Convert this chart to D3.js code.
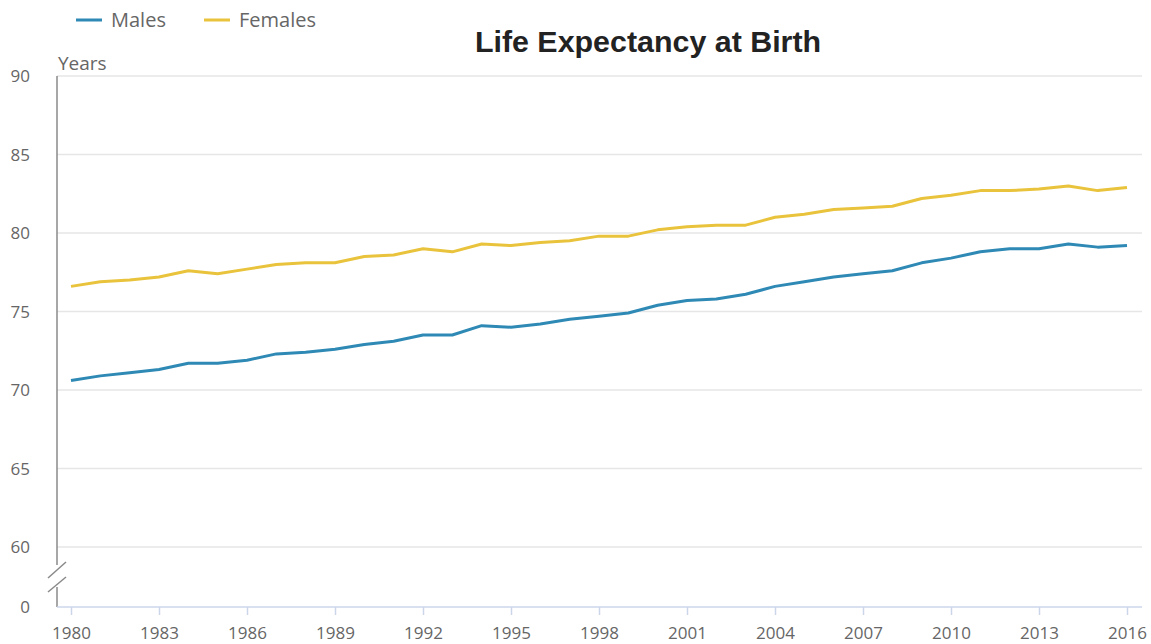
<!DOCTYPE html>
<html>
<head>
<meta charset="utf-8">
<title>Life Expectancy at Birth</title>
<script src="https://d3js.org/d3.v7.min.js"></script>
<style>
  body { margin: 0; background: #fff; }
  svg { display: block; }
  text { font-family: "Open Sans", sans-serif; fill: #666; }
</style>
</head>
<body>
<svg width="1151" height="644"></svg>
<script>
// data
const years = d3.range(1980, 2017);
const males = [70.6, 70.9, 71.1, 71.3, 71.7, 71.7, 71.9, 72.3, 72.4, 72.6,
  72.9, 73.1, 73.5, 73.5, 74.1, 74.0, 74.2, 74.5, 74.7, 74.9,
  75.4, 75.7, 75.8, 76.1, 76.6, 76.9, 77.2, 77.4, 77.6, 78.1,
  78.4, 78.8, 79.0, 79.0, 79.3, 79.1, 79.2];
const females = [76.6, 76.9, 77.0, 77.2, 77.6, 77.4, 77.7, 78.0, 78.1, 78.1,
  78.5, 78.6, 79.0, 78.8, 79.3, 79.2, 79.4, 79.5, 79.8, 79.8,
  80.2, 80.4, 80.5, 80.5, 81.0, 81.2, 81.5, 81.6, 81.7, 82.2,
  82.4, 82.7, 82.7, 82.8, 83.0, 82.7, 82.9];
const xTicks = d3.range(1980, 2017, 3);
const yTicks = [0, 60, 65, 70, 75, 80, 85, 90];
const series = [
  { name: "Males", values: males, color: "#2f89b5" },
  { name: "Females", values: females, color: "#e9c33c" }
];

const svg = d3.select("svg");
const left = 57, right = 1142;

const x = d3.scaleLinear().domain([1980, 2016]).range([71, 1127]);
// broken axis: 0 sits just below 60
const y = d3.scaleLinear().domain([0, 60, 90]).range([607, 547, 76]);

// gridlines
svg.append("g").selectAll("line")
  .data(yTicks.filter(d => d > 0))
  .enter().append("line")
  .attr("x1", left).attr("x2", right)
  .attr("y1", d => y(d)).attr("y2", d => y(d))
  .attr("stroke", "#e6e6e6").attr("stroke-width", 1.5);

// y tick labels
svg.append("g").selectAll("text")
  .data(yTicks)
  .enter().append("text")
  .attr("x", 30).attr("y", d => y(d) + 6)
  .attr("text-anchor", "end")
  .attr("font-size", 17)
  .text(d => d);

// y axis line with break marks
const axisG = svg.append("g").attr("stroke", "#8a8a8a").attr("stroke-width", 1.5);
axisG.append("line").attr("x1", left).attr("x2", left).attr("y1", y(90)).attr("y2", 565);
axisG.append("line").attr("x1", left).attr("x2", left).attr("y1", 587).attr("y2", y(0));
axisG.append("line").attr("x1", 48).attr("x2", 66).attr("y1", 578).attr("y2", 562);
axisG.append("line").attr("x1", 48).attr("x2", 66).attr("y1", 592).attr("y2", 577);

// x axis
const xAxis = svg.append("g").attr("transform", `translate(0,${y(0)})`)
  .call(d3.axisBottom(x).tickValues(xTicks).tickFormat(d3.format("d")).tickSize(8).tickPadding(12));
xAxis.select(".domain").attr("d", `M${left},0H${right}`).attr("stroke", "#ccd6eb").attr("stroke-width", 1.5);
xAxis.selectAll(".tick line").attr("stroke", "#ccd6eb").attr("stroke-width", 1.5);
xAxis.selectAll(".tick text").attr("font-size", 17).attr("fill", "#666")
  .attr("font-family", "Open Sans, sans-serif");

// lines
const line = d3.line().x((d, i) => x(years[i])).y(d => y(d));
svg.append("g").selectAll("path")
  .data(series)
  .enter().append("path")
  .attr("d", d => line(d.values))
  .attr("fill", "none")
  .attr("stroke", d => d.color)
  .attr("stroke-width", 3)
  .attr("stroke-linejoin", "round");

// "Years" label
svg.append("text").attr("x", 58).attr("y", 70).attr("font-size", 19).text("Years");

// title
svg.append("text")
  .attr("x", 648).attr("y", 52)
  .attr("text-anchor", "middle")
  .style("font-family", "'Liberation Sans', Arial, sans-serif")
  .style("font-weight", "bold")
  .style("fill", "#222")
  .attr("font-size", 30.4)
  .text("Life Expectancy at Birth");

// legend
const legend = svg.append("g").selectAll("g")
  .data(series)
  .enter().append("g")
  .attr("transform", (d, i) => `translate(${76 + i * 128},20)`);
legend.append("line").attr("x1", 0).attr("x2", 26)
  .attr("stroke", d => d.color).attr("stroke-width", 3);
legend.append("text").attr("x", 35).attr("y", 7).attr("font-size", 20).text(d => d.name);
</script>
</body>
</html>
